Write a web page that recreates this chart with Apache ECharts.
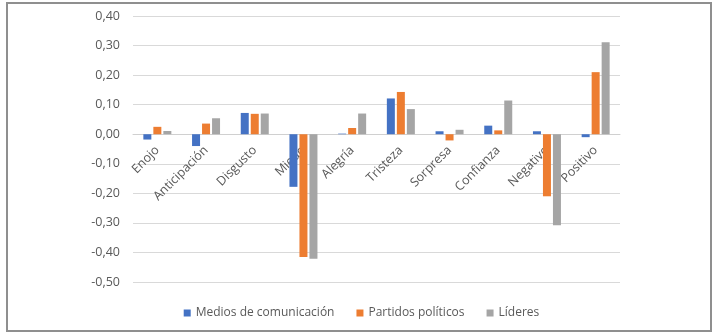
<!DOCTYPE html>
<html><head><meta charset="utf-8">
<script src="https://cdn.jsdelivr.net/npm/echarts@6/dist/echarts.min.js"></script>
<style>
html,body{margin:0;padding:0;background:#fff;}
#c{width:723px;height:334px;position:relative;}
#frame{position:absolute;left:6px;top:2px;width:702px;height:326px;border:2px solid #8f8f8f;pointer-events:none;}
</style></head><body>
<div id="c"></div><div id="frame"></div>
<script>
const categories = ['Enojo','Anticipación','Disgusto','Miedo','Alegría','Tristeza','Sorpresa','Confianza','Negativo','Positivo'];
const medios = [-0.018,-0.040,0.072,-0.178,0.002,0.121,0.010,0.029,0.010,-0.010];
const partidos = [0.025,0.036,0.069,-0.415,0.021,0.143,-0.021,0.013,-0.210,0.210];
const lideres = [0.011,0.054,0.070,-0.421,0.070,0.085,0.015,0.114,-0.308,0.311];
const seriesNames = ['Medios de comunicación','Partidos políticos','Líderes'];
const yMin = -0.5, yMax = 0.4;
const font = '"Open Sans", "Liberation Sans", sans-serif';
const gridTop = 16, gridBottom = 52, H = 334;
const plotH = H - gridTop - gridBottom;
const zeroOffset = -plotH * (0 - yMin) / (yMax - yMin);
const chart = echarts.init(document.getElementById('c'));
const mk = (name, data, color) => ({
  name, type:'bar', data, barWidth:8, barGap:'25%',
  itemStyle:{color}
});
chart.setOption({
  animation:false,
  textStyle:{fontFamily:font},
  grid:{left:133,right:103,top:gridTop,bottom:gridBottom,outerBoundsMode:'none',containLabel:false},
  legend:{bottom:10,left:'center',icon:'rect',itemWidth:7,itemHeight:7,itemGap:22,
    textStyle:{color:'#595959',fontSize:12,fontFamily:font},data:seriesNames},
  xAxis:{type:'category',data:categories,offset:zeroOffset,
    axisLine:{onZero:false,lineStyle:{color:'#d0d0d0'}},
    axisTick:{show:false},
    axisLabel:{rotate:45,color:'#595959',fontSize:12.5,margin:14,interval:0,fontFamily:font}},
  yAxis:{type:'value',min:yMin,max:yMax,interval:0.1,
    axisLine:{show:false},axisTick:{show:false},
    splitLine:{lineStyle:{color:'#d9d9d9'}},
    axisLabel:{color:'#595959',fontSize:12.5,margin:13,fontFamily:font,
      formatter:v=>(Math.round(v*100)/100).toFixed(2).replace('.',',')}},
  series:[mk(seriesNames[0],medios,'#4472C4'),mk(seriesNames[1],partidos,'#ED7D31'),mk(seriesNames[2],lideres,'#A5A5A5')]
});
</script></body></html>
